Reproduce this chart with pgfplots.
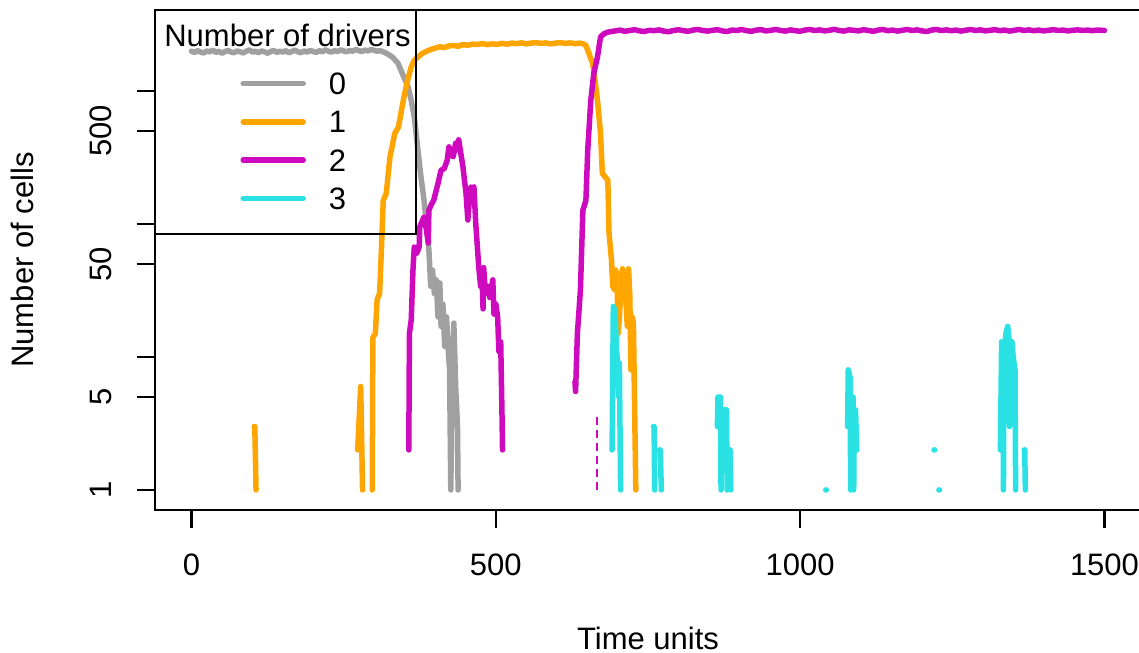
\documentclass[border=0pt]{standalone}
\usepackage{fontspec}
\setmainfont{Liberation Sans}
\usepackage{graphicx}
\usepackage{pgfplots}
\pgfplotsset{compat=1.18}
\definecolor{cgray}{RGB}{160,160,160}
\definecolor{corange}{RGB}{255,165,0}
\definecolor{cmag}{RGB}{205,10,190}
\definecolor{ccyan}{RGB}{42,226,228}
\begin{document}
\begin{tikzpicture}[font=\fontsize{12.4}{14.9}\selectfont]
\begin{axis}[
  at={(0,0)}, anchor=south west,
  scale only axis, width=394.4pt, height=200pt,
  xmin=-60, xmax=1560, ymode=log, ymin=0.707, ymax=4064,
  xtick={0,500,1000,1500}, xticklabels={0,500,1000,1500},
  ytick={1,5,10,50,100,500,1000},
  yticklabels={\rotatebox{90}{1},\rotatebox{90}{5},,\rotatebox{90}{50},,\rotatebox{90}{500},},
  yminorticks=false, xminorticks=false,
  tick pos=left, tick align=outside, major tick length=7.2pt,
  every tick/.style={black, line width=0.9pt},
  axis line style={line width=0.9pt},
  xticklabel style={anchor=north, inner sep=0pt, yshift=-10pt},
  yticklabel style={anchor=east, inner sep=0pt, xshift=-10pt},
  xlabel={Time units}, ylabel={Number of cells},
  xlabel style={at={(axis description cs:0.5,-0.28)}, anchor=base, inner sep=0pt},
  ylabel style={at={(axis description cs:-0.1237,0.5)}, anchor=base, inner sep=0pt},
  unbounded coords=jump,
  every axis plot/.append style={line width=2.2pt, line cap=round, line join=round},
  legend style={at={(axis description cs:0.0862,0.876)}, anchor=north west, draw=none, fill=none,
    inner sep=0pt, row sep=6.4pt, nodes={inner sep=0pt, text height=8.9pt, text depth=0pt},
    /tikz/every odd column/.append style={column sep=9.2pt}},
  legend image code/.code={\draw[#1] (0pt,0pt) -- (24pt,0pt);},
  legend cell align=left,
]
% 0 drivers
\addplot[cgray] coordinates {
(0,1990)(5,1950)(10,2010)(15,1960)(20,1930)(25,2000)(30,1970)(35,2030)(40,1950)(45,1990)
(50,1920)(55,1980)(60,2020)(65,1960)(70,1940)(75,2000)(80,1970)(85,1930)(90,1990)(95,2040)
(100,1960)(105,1990)(110,1940)(115,2000)(120,1970)(125,1920)(130,1980)(135,2020)(140,1950)(145,1990)
(150,1960)(155,2010)(160,1940)(165,1980)(170,2030)(175,1970)(180,1940)(185,2000)(190,1960)(195,2020)
(200,1980)(205,1950)(210,2010)(215,1970)(220,2040)(225,1990)(230,1960)(235,2010)(240,1980)(245,2040)
(250,2000)(255,1970)(260,2020)(265,1990)(270,2050)(275,2010)(280,1980)(285,2030)(290,2000)(295,2050)
(300,2020)(305,1990)(310,2010)(316,1960)(322,1900)(330,1800)(339,1625)(348,1300)(356,1072)(361,850)
(366,638)(372,360)(377,226)(382,151)(386,100)(390,64)(393,34)(396,45)(399,30)(402,38)(405,20)
(408,36)(410,17)(413,25)(416,12)(419,20)(421,13)(424,8)(426,1)(428,6)(431,18)(434,6)(437,3)(438,1)
};
\addlegendentry{0}
% 1 driver
\addplot[corange] coordinates {
(103,3)(104,3)(106,1)(107,nan)
(273,2)(278,6)(281,1)(282,nan)
(297,1)(298,14)(302,15)(305,27)(309,30)(312,64)(315,150)(320,170)(326,318)(334,480)(340,536)
(349,900)(355,1200)(361,1520)(366,1700)(372,1800)(378,1900)(385,1980)(393,2050)(400,2100)(408,2150)
(415,2120)(423,2180)(430,2200)(438,2170)(446,2230)(454,2210)(462,2250)(470,2240)(478,2270)(486,2230)
(494,2260)(502,2240)(510,2280)(518,2250)(526,2290)(534,2270)(542,2300)(550,2260)(558,2290)(566,2310)
(574,2280)(582,2300)(590,2260)(598,2290)(606,2310)(614,2280)(622,2300)(630,2270)(638,2290)(644,2260)
(648,2200)(651,2030)(655,1800)(659,1620)(663,1200)(667,850)(672,480)(675,240)(680,225)(684,214)
(686,85)(690,54)(692,34)(695,32)(697,45)(699,40)(701,15)(703,20)(705,30)(708,46)(710,40)(712,35)
(714,25)(716,17)(718,46)(720,30)(722,8)(724,20)(726,18)(730,1)
};
\addlegendentry{1}
% 2 drivers
\addplot[cmag] coordinates {
(357,2)(358,15)(361,19)(364,47)(366,67)(370,60)(374,67)(375,95)(382,113)(386,90)(389,72)(390,127)
(394,140)(398,151)(405,202)(410,254)(415,260)(420,300)(423,380)(427,330)(430,320)(434,405)(436,360)
(439,430)(442,350)(446,268)(451,170)(454,107)(457,160)(459,190)(462,180)(464,190)(467,101)(472,47)
(475,34)(477,45)(479,23)(480,47)(483,30)(487,34)(490,28)(495,38)(497,21)(500,25)(503,20)(505,11)
(508,13)(510,4)(511,2)(512,nan)
(630,6.5)(631,5.5)(634,15)(639,32)(643,127)(646,140)(648,151)(651,360)(656,850)(661,1360)(667,1800)
(672,2550)(678,2700)(684,2770)
(688,2790)(696,2830)(704,2870)(712,2810)(720,2850)(728,2890)(736,2830)(744,2800)(752,2860)(760,2840)
(768,2880)(776,2820)(784,2790)(792,2850)(800,2890)(808,2840)(816,2810)(824,2870)(832,2900)(840,2850)
(848,2820)(856,2860)(864,2890)(872,2830)(880,2800)(888,2870)(896,2850)(904,2900)(912,2840)(920,2810)
(928,2870)(936,2890)(944,2830)(952,2860)(960,2900)(968,2850)(976,2820)(984,2880)(992,2840)(1000,2810)
(1008,2870)(1016,2900)(1024,2850)(1032,2880)(1040,2830)(1048,2860)(1056,2910)(1064,2850)(1072,2820)
(1080,2880)(1088,2860)(1096,2830)(1104,2890)(1112,2850)(1120,2810)(1128,2870)(1136,2900)(1144,2840)
(1152,2870)(1160,2820)(1168,2860)(1176,2900)(1184,2850)(1192,2880)(1200,2830)(1208,2800)(1216,2870)
(1224,2900)(1232,2850)(1240,2880)(1248,2840)(1256,2870)(1264,2820)(1272,2860)(1280,2900)(1288,2850)
(1296,2880)(1304,2830)(1312,2860)(1320,2890)(1328,2840)(1336,2870)(1344,2820)(1352,2860)(1360,2900)
(1368,2850)(1376,2880)(1384,2840)(1392,2870)(1400,2830)(1408,2860)(1416,2890)(1424,2850)(1432,2870)
(1440,2830)(1448,2860)(1456,2880)(1464,2850)(1472,2870)(1480,2840)(1488,2870)(1496,2860)(1500,2850)
};
\addlegendentry{2}
% 3 drivers
\addplot[ccyan] coordinates {
(691,2)(693,24)(696,22)(698,12)(700,9)(702,5)(703,9)(705,1)(706,nan)
(759,3)(760,3)(761,1)(762,nan)
(769,2)(770,2)(772,1)(773,nan)
(864,3)(865,5)(869,5)(870,1)(871,4)(879,4)(880,1)(881,2)(885,2)(886,1)(887,nan)
(1042,1)(1043,1)(1044,nan)
(1078,3)(1079,8)(1082,7)(1083,1)(1084,5)(1087,5)(1088,1)(1089,4)(1091,4)(1093,2)(1094,nan)
(1220,2)(1221,2)(1222,nan)
(1228,1)(1229,1)(1230,nan)
(1329,2)(1331,13)(1333,12)(1334,1)(1335,10)(1338,15)(1341,17)(1343,14)(1344,3)(1345,12)(1348,13)
(1350,10)(1353,8)(1354,1)(1355,nan)
(1368,2)(1369,2)(1370,1)
};
\addlegendentry{3}
\addplot[cmag, line width=0.8pt, line cap=butt, dash pattern=on 3.2pt off 2pt, forget plot] coordinates {(666,1)(666,3.8)};
\draw[line width=0.7pt] (rel axis cs:0,0.552) -- (rel axis cs:0.2647,0.552) -- (rel axis cs:0.2647,1);
\node[anchor=base, inner sep=0pt] at (rel axis cs:0.1344,0.926) {Number of drivers};
\end{axis}
\pgfresetboundingbox
\path[use as bounding box] (-62pt,-57.2pt) rectangle (393.6pt,204pt);
\end{tikzpicture}
\end{document}
